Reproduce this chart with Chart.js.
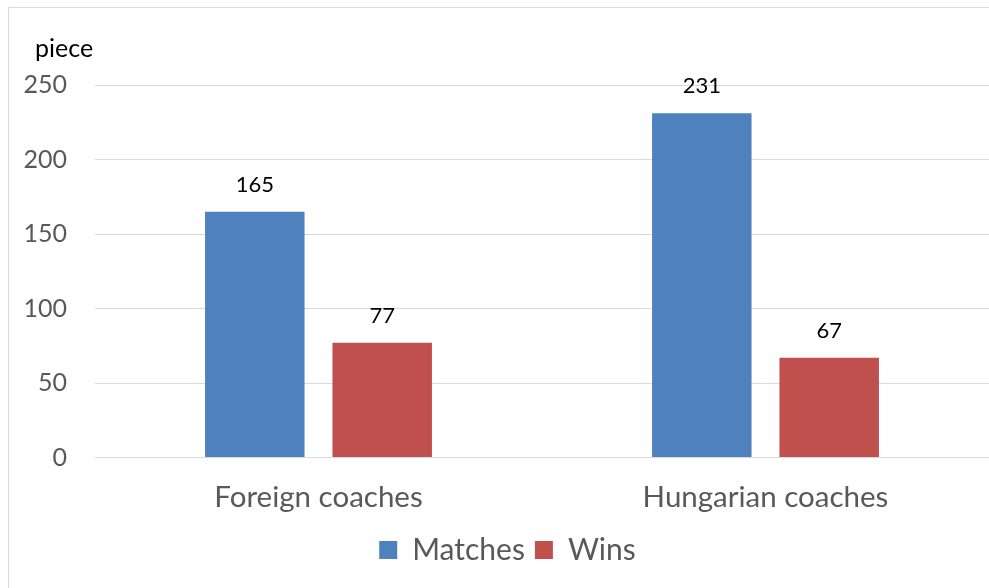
<!DOCTYPE html>
<html>
<head>
<meta charset="utf-8">
<script src="https://cdn.jsdelivr.net/npm/chart.js@4"></script>
<style>
  html, body { margin: 0; padding: 0; background: #fff; }
  #wrap { position: relative; width: 989px; height: 588px; }
</style>
</head>
<body>
<div id="wrap"><canvas id="c" width="989" height="588"></canvas></div>
<script>
const categories = ["Foreign coaches", "Hungarian coaches"];
const seriesNames = ["Matches", "Wins"];
const matches = [165, 231];
const wins = [77, 67];
const yTicks = [0, 50, 100, 150, 200, 250];
const unitLabel = "piece";

const FONT = "Lato, 'Open Sans', sans-serif";

const frame = {
  id: 'frame',
  afterLayout(chart) {
    if (chart.legend) { chart.legend.left += 20; }
  },
  beforeDraw(chart) {
    const ctx = chart.ctx;
    ctx.save();
    ctx.fillStyle = '#fff';
    ctx.fillRect(0, 0, chart.width, chart.height);
    ctx.strokeStyle = '#d9d9d9';
    ctx.lineWidth = 1;
    ctx.beginPath();
    ctx.moveTo(8.5, chart.height);
    ctx.lineTo(8.5, 7.5);
    ctx.lineTo(chart.width, 7.5);
    ctx.stroke();
    ctx.restore();
  },
  afterDraw(chart) {
    const ctx = chart.ctx;
    ctx.save();
    ctx.font = "25px " + FONT;
    ctx.fillStyle = '#000';
    ctx.textAlign = 'left';
    ctx.textBaseline = 'alphabetic';
    ctx.fillText(unitLabel, 35, 57);
    ctx.restore();
  }
};

const valueLabels = {
  id: 'valueLabels',
  afterDatasetsDraw(chart) {
    const ctx = chart.ctx;
    ctx.save();
    ctx.font = "22px " + FONT;
    ctx.fillStyle = '#000';
    ctx.textAlign = 'center';
    ctx.textBaseline = 'middle';
    chart.data.datasets.forEach((ds, di) => {
      const meta = chart.getDatasetMeta(di);
      meta.data.forEach((el, i) => {
        ctx.fillText(String(ds.data[i]), el.x, el.y - 27);
      });
    });
    ctx.restore();
  }
};

new Chart(document.getElementById('c'), {
  type: 'bar',
  data: {
    labels: categories,
    datasets: [
      { label: seriesNames[0], data: matches, backgroundColor: '#4f81bd',
        categoryPercentage: 0.570, barPercentage: 0.781 },
      { label: seriesNames[1], data: wins, backgroundColor: '#c0504d',
        categoryPercentage: 0.570, barPercentage: 0.781 }
    ]
  },
  options: {
    responsive: false,
    animation: false,
    layout: { padding: { left: 0, right: -6, top: 85, bottom: 13 } },
    plugins: {
      title: { display: false },
      legend: {
        position: 'bottom',
        labels: {
          boxWidth: 18, boxHeight: 18, color: '#595959', padding: 10,
          font: { family: FONT, size: 30 }
        }
      },
      tooltip: { enabled: false }
    },
    scales: {
      x: {
        grid: { display: false, drawTicks: false },
        border: { display: false },
        ticks: { color: '#595959', font: { family: FONT, size: 29.5 }, padding: 22 },
        afterFit(s) { s.height = s.height - 12; }
      },
      y: {
        min: 0, max: 250,
        afterBuildTicks(s) { s.ticks = yTicks.map(v => ({ value: v })); },
        afterFit(s) { s.width = 95; },
        grid: { color: '#d9d9d9', lineWidth: 1, drawTicks: false },
        border: { display: false },
        ticks: { color: '#595959', font: { family: FONT, size: 25 }, padding: 28 }
      }
    }
  },
  plugins: [frame, valueLabels]
});
</script>
</body>
</html>
